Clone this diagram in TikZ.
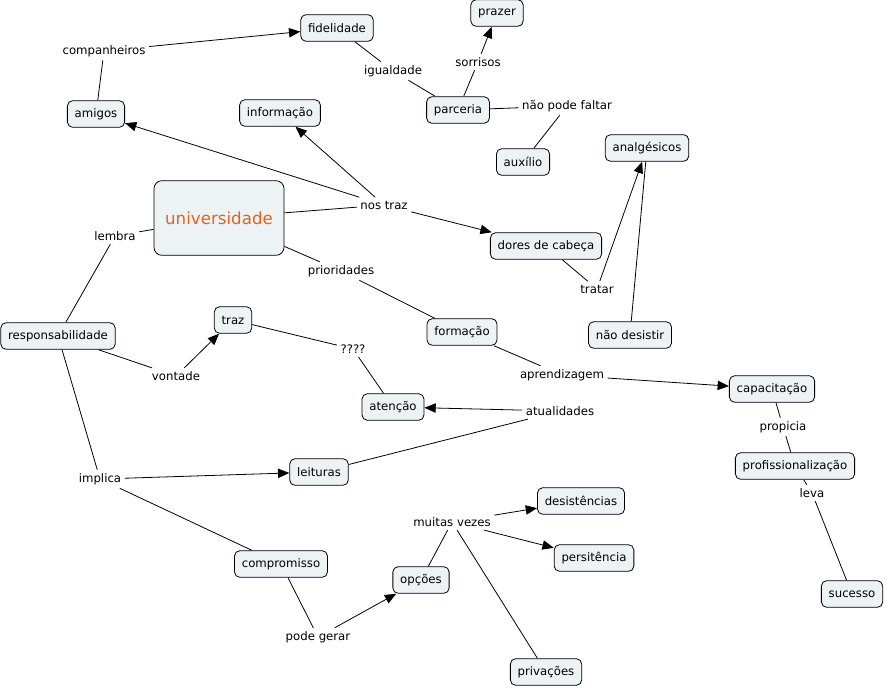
\documentclass[tikz,border=0pt]{standalone}
\usepackage{fontspec}
\setmainfont{DejaVu Sans}
\usetikzlibrary{arrows.meta}
\definecolor{boxfill}{RGB}{237,242,244}
\definecolor{cmaporange}{RGB}{224,100,30}
\begin{document}
\begin{tikzpicture}[
  x=0.75pt, y=-0.75pt,
  font=\fontsize{8.8}{10}\selectfont,
  box/.style={rectangle, draw, fill=boxfill, rounded corners=4pt,
    minimum height=20pt, inner xsep=5.5pt, line width=0.6pt},
  lnk/.style={inner sep=2.5pt},
  con/.style={line width=0.6pt},
  arr/.style={con, -{Triangle[length=8.5pt,width=7pt]}}
]
\useasboundingbox (0,0) rectangle (887,689);
% concepts
\node[box] (fidelidade) at (337,28) {fidelidade};
\node[box] (prazer) at (497,13) {prazer};
\node[box] (amigos) at (96,114) {amigos};
\node[box] (informacao) at (280,113) {informação};
\node[box] (parceria) at (458,110) {parceria};
\node[box] (auxilio) at (523,162) {auxílio};
\node[box] (analgesicos) at (647,148) {analgésicos};
\node[box, minimum width=97.5pt, minimum height=56pt, rounded corners=6pt,
  font=\fontsize{12.5}{14}\selectfont, text=cmaporange] (universidade) at (219,218) {universidade};
\node[box] (dores) at (546,246) {dores de cabeça};
\node[box] (responsabilidade) at (58,336) {responsabilidade};
\node[box] (traz) at (233,320) {traz};
\node[box] (formacao) at (462,332) {formação};
\node[box] (desistir) at (630,335) {não desistir};
\node[box] (capacitacao) at (772,389) {capacitação};
\node[box] (atencao) at (393,407) {atenção};
\node[box] (profissionalizacao) at (795,466) {profissionalização};
\node[box] (leituras) at (319,472) {leituras};
\node[box] (desistencias) at (581,501) {desistências};
\node[box] (persitencia) at (594,558) {persitência};
\node[box] (compromisso) at (281,564) {compromisso};
\node[box] (opcoes) at (421,580) {opções};
\node[box] (sucesso) at (852,594) {sucesso};
\node[box] (privacoes) at (546,672) {privações};
% linking phrases
\node[lnk] (companheiros) at (104,51) {companheiros};
\node[lnk] (igualdade) at (393,71) {igualdade};
\node[lnk] (sorrisos) at (478,62) {sorrisos};
\node[lnk] (naopode) at (567,106) {não pode faltar};
\node[lnk] (nostraz) at (384,205) {nos traz};
\node[lnk] (lembra) at (115,236) {lembra};
\node[lnk] (prioridades) at (341,271) {prioridades};
\node[lnk] (tratar) at (597,289) {tratar};
\node[lnk] (interrog) at (353,349) {????};
\node[lnk] (vontade) at (176,376) {vontade};
\node[lnk] (aprendizagem) at (562,375) {aprendizagem};
\node[lnk] (atualidades) at (560,411) {atualidades};
\node[lnk] (propicia) at (783,427) {propicia};
\node[lnk] (leva) at (812,493) {leva};
\node[lnk] (implica) at (100,479) {implica};
\node[lnk] (muitasvezes) at (452,522) {muitas vezes};
\node[lnk] (podegerar) at (318,637) {pode gerar};
% connections
\draw[con] (amigos) -- (companheiros);
\draw[arr] (companheiros) -- (fidelidade);
\draw[con] (fidelidade) -- (igualdade) -- (parceria);
\draw[con] (parceria) -- (sorrisos);
\draw[arr] (sorrisos) -- (prazer);
\draw[con] (parceria) -- (naopode) -- (auxilio);
\draw[con] (universidade) -- (nostraz);
\draw[arr] (nostraz) -- (amigos);
\draw[arr] (nostraz) -- (informacao);
\draw[arr] (nostraz) -- (dores);
\draw[con] (dores) -- (tratar);
\draw[arr] (tratar) -- (analgesicos);
\draw[con] (analgesicos) -- (desistir);
\draw[con] (universidade) -- (lembra) -- (responsabilidade);
\draw[con] (universidade) -- (prioridades) -- (formacao);
\draw[con] (formacao) -- (aprendizagem);
\draw[arr] (aprendizagem) -- (capacitacao);
\draw[con] (capacitacao) -- (propicia) -- (profissionalizacao);
\draw[con] (profissionalizacao) -- (leva) -- (sucesso);
\draw[con] (responsabilidade) -- (vontade);
\draw[arr] (vontade) -- (traz);
\draw[con] (traz) -- (interrog) -- (atencao);
\draw[con] (leituras) -- (atualidades);
\draw[arr] (atualidades) -- (atencao);
\draw[con] (responsabilidade) -- (implica);
\draw[arr] (implica) -- (leituras);
\draw[con] (implica) -- (compromisso);
\draw[con] (compromisso) -- (podegerar);
\draw[arr] (podegerar) -- (opcoes);
\draw[con] (opcoes) -- (muitasvezes);
\draw[arr] (muitasvezes) -- (desistencias);
\draw[arr] (muitasvezes) -- (persitencia);
\draw[con] (muitasvezes) -- (privacoes);
\end{tikzpicture}
\end{document}
